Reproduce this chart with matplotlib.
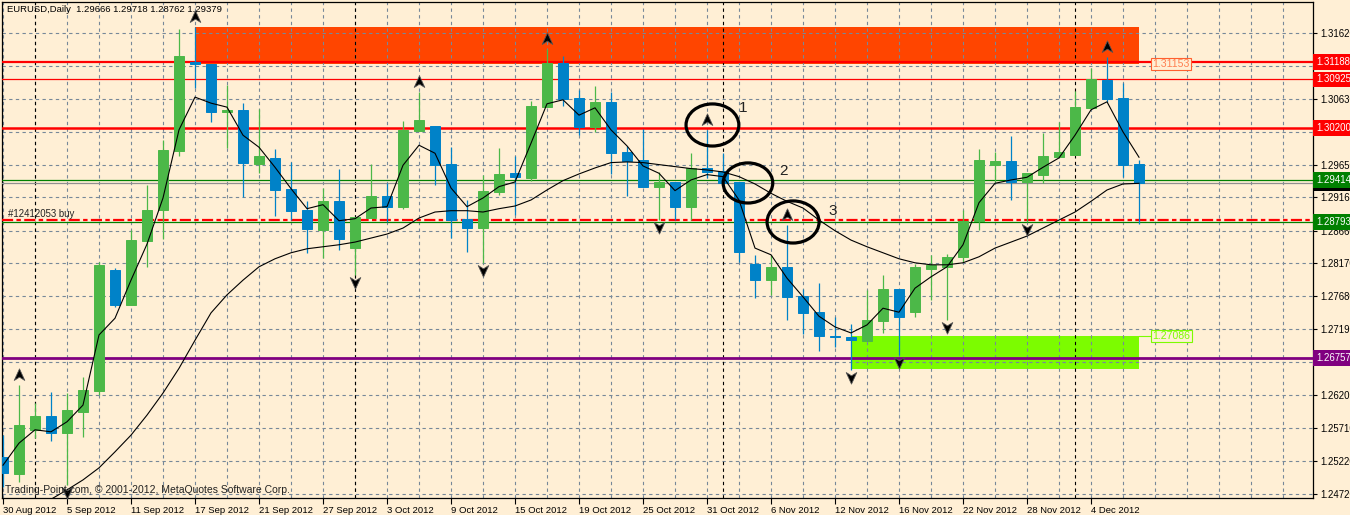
import numpy as np
import matplotlib
matplotlib.use("Agg")
import matplotlib.pyplot as plt
import matplotlib.transforms as mtransforms
from matplotlib.patches import Rectangle, Ellipse
from matplotlib.path import Path

# ---------------- data ----------------
opens = [1.2527, 1.2502, 1.2568, 1.2589, 1.2563, 1.2595, 1.2626, 1.2807, 1.2755, 1.2851,
         1.2897, 1.2985, 1.3119, 1.3116, 1.3044, 1.3047, 1.2966, 1.2975, 1.2929, 1.2897,
         1.2867, 1.2911, 1.2840, 1.2885, 1.2918, 1.2902, 1.3015, 1.3023, 1.2966, 1.2884,
         1.2870, 1.2924, 1.2952, 1.2945, 1.3051, 1.3117, 1.3065, 1.3021, 1.3059, 1.2984,
         1.2972, 1.2932, 1.2939, 1.2902, 1.2960, 1.2955, 1.2939, 1.2816, 1.2792, 1.2812,
         1.2768, 1.2744, 1.2708, 1.2707, 1.2701, 1.2731, 1.2779, 1.2744, 1.2809, 1.2812,
         1.2826, 1.2880, 1.2964, 1.2970, 1.2939, 1.2949, 1.2976, 1.2979, 1.3050, 1.3092,
         1.3065, 1.29666]
highs = [1.2560, 1.2635, 1.2608, 1.2625, 1.2623, 1.2647, 1.2819, 1.2810, 1.2867, 1.2934,
         1.3002, 1.3168, 1.3171, 1.3116, 1.3084, 1.3057, 1.3048, 1.2988, 1.2969, 1.2911,
         1.2930, 1.2958, 1.2887, 1.2966, 1.2937, 1.3030, 1.3074, 1.3023, 1.2991, 1.2912,
         1.2949, 1.2990, 1.2978, 1.3060, 1.3138, 1.3128, 1.3077, 1.3083, 1.3074, 1.2993,
         1.3018, 1.2954, 1.2939, 1.2982, 1.3017, 1.2982, 1.2939, 1.2830, 1.2830, 1.2875,
         1.2779, 1.2788, 1.2737, 1.2726, 1.2777, 1.2800, 1.2779, 1.2816, 1.2829, 1.2831,
         1.2897, 1.2988, 1.2984, 1.3008, 1.2952, 1.3012, 1.3029, 1.3075, 1.3110, 1.3126,
         1.3087, 1.29718]
lows = [1.2482, 1.2490, 1.2556, 1.2551, 1.2485, 1.2557, 1.2620, 1.2752, 1.2755, 1.2812,
        1.2854, 1.2978, 1.3080, 1.3029, 1.2990, 1.2917, 1.2952, 1.2888, 1.2882, 1.2833,
        1.2825, 1.2837, 1.2800, 1.2885, 1.2879, 1.2899, 1.3015, 1.2934, 1.2855, 1.2834,
        1.2818, 1.2920, 1.2890, 1.2940, 1.3051, 1.3053, 1.3009, 1.3014, 1.2951, 1.2918,
        1.2932, 1.2882, 1.2882, 1.2882, 1.2945, 1.2937, 1.2819, 1.2765, 1.2770, 1.2732,
        1.2711, 1.2686, 1.2692, 1.2658, 1.2701, 1.2713, 1.2680, 1.2737, 1.2762, 1.2732,
        1.2819, 1.2867, 1.2939, 1.2912, 1.2879, 1.2937, 1.2976, 1.2979, 1.3050, 1.3059,
        1.2946, 1.28762]
closes = [1.2503, 1.2575, 1.2589, 1.2563, 1.2598, 1.2628, 1.2815, 1.2755, 1.2852, 1.2897,
          1.2987, 1.3127, 1.3116, 1.3044, 1.3047, 1.2967, 1.2978, 1.2927, 1.2896, 1.2869,
          1.2911, 1.2854, 1.2887, 1.2918, 1.2902, 1.3017, 1.3032, 1.2964, 1.2882, 1.2870,
          1.2926, 1.2951, 1.2946, 1.3053, 1.3117, 1.3063, 1.3021, 1.3059, 1.2982, 1.2970,
          1.2932, 1.2939, 1.2902, 1.2960, 1.2954, 1.2937, 1.2834, 1.2792, 1.2812, 1.2767,
          1.2743, 1.2708, 1.2707, 1.2702, 1.2732, 1.2779, 1.2737, 1.2811, 1.2815, 1.2827,
          1.2880, 1.2972, 1.2970, 1.2939, 1.2952, 1.2978, 1.2984, 1.3051, 1.3093, 1.3063,
          1.2964, 1.29379]
ma_fast = [1.2515, 1.2548, 1.2568, 1.2565, 1.2580, 1.2605, 1.2710, 1.2735, 1.2792, 1.2846,
           1.2915, 1.3017, 1.3066, 1.3057, 1.3051, 1.3009, 1.2991, 1.2961, 1.2929, 1.2899,
           1.2905, 1.2881, 1.2884, 1.2900, 1.2902, 1.2964, 1.2994, 1.2982, 1.2930, 1.2902,
           1.2915, 1.2932, 1.2939, 1.2997, 1.3056, 1.3062, 1.3039, 1.3050, 1.3017, 1.2993,
           1.2963, 1.2952, 1.2926, 1.2942, 1.2950, 1.2947, 1.2912, 1.2840, 1.2830, 1.2795,
           1.2767, 1.2738, 1.2722, 1.2713, 1.2725, 1.2750, 1.2744, 1.2780, 1.2797, 1.2812,
           1.2845, 1.2908, 1.2937, 1.2942, 1.2946, 1.2961, 1.2975, 1.3009, 1.3047, 1.3059,
           1.3014, 1.2976]
ma_slow = [np.nan, np.nan, 1.2448, 1.2464, 1.2478, 1.2493, 1.2511, 1.2535, 1.2560, 1.2590,
           1.2623, 1.2660, 1.2702, 1.2743, 1.2770, 1.2792, 1.2812, 1.2824, 1.2833, 1.2839,
           1.2842, 1.2845, 1.2849, 1.2855, 1.2861, 1.2870, 1.2885, 1.2894, 1.2896, 1.2896,
           1.2894, 1.2899, 1.2903, 1.2912, 1.2927, 1.2941, 1.2951, 1.2960, 1.2968, 1.2969,
           1.2968, 1.2965, 1.2962, 1.2959, 1.2957, 1.2954, 1.2947, 1.2936, 1.2922, 1.2910,
           1.2900, 1.2882, 1.2866, 1.2852, 1.2842, 1.2833, 1.2824, 1.2818, 1.2815, 1.2815,
           1.2818, 1.2827, 1.2840, 1.2849, 1.2858, 1.2870, 1.2882, 1.2894, 1.2910, 1.2927,
           1.2936, 1.2937]

date_tick_bars = [0, 4, 8, 12, 16, 20, 24, 28, 32, 36, 40, 44, 48, 52, 56, 60, 64, 68]
date_tick_labels = ["30 Aug 2012", "5 Sep 2012", "11 Sep 2012", "17 Sep 2012", "21 Sep 2012",
                    "27 Sep 2012", "3 Oct 2012", "9 Oct 2012", "15 Oct 2012", "19 Oct 2012",
                    "25 Oct 2012", "31 Oct 2012", "6 Nov 2012", "12 Nov 2012", "16 Nov 2012",
                    "22 Nov 2012", "28 Nov 2012", "4 Dec 2012"]
month_separators = [2, 22, 45, 67]
price_ticks = [1.2472, 1.2522, 1.2571, 1.2620, 1.2669, 1.2719, 1.2768, 1.2817,
               1.2866, 1.2916, 1.2965, 1.3014, 1.3063, 1.3113, 1.3162]

up_fractals = [1, 12, 26, 34, 44, 49, 69]
down_fractals = [4, 22, 30, 41, 53, 56, 59, 64]

# horizontal levels
res_levels = [1.31188, 1.30925, 1.30200]
res_widths = [1.6, 0.9, 1.8]
tp_level = 1.29414
bid_level = 1.29379
order_level = 1.28793
order_sl_level = 1.28815
support_level = 1.26757

# zones (bar_start, bar_end, low, high)
zone_res = (12, 71, 1.31153, 1.31710)
zone_sup = (53, 71, 1.26590, 1.27086)

# annotation circles
circle_labels = ["1", "2", "3"]
circle_x = [44.34, 46.56, 49.38]
circle_y = [1.30243, 1.29375, 1.28791]
circle_w = [3.3, 3.1, 3.25]
circle_h = [0.0063, 0.0060, 0.0063]
circle_lab_x = [46.25, 48.75, 51.85]
circle_lab_y = [1.30497, 1.29554, 1.28955]

# ---------------- style ----------------
BG = "#FFEFD5"
GREEN = "#4CB848"
BLUE = "#0082C8"
GRID = "#778899"
FONT = ["Liberation Sans", "DejaVu Sans"]
plt.rcParams["font.family"] = FONT

W, H = 1350, 515
fig = plt.figure(figsize=(W / 100, H / 100), dpi=100, facecolor=BG)
ax = fig.add_axes([2 / W, 17 / H, 1311 / W, 496 / H], facecolor=BG)
ax.set_xlim(-0.0625, 81.875)
ax.set_ylim(1.246589, 1.320841)

# grid
for b in range(0, 82, 2):
    ax.axvline(b, color=GRID, lw=0.8, ls=(0, (3, 3)), zorder=1.5)
for p in price_ticks:
    ax.axhline(p, color=GRID, lw=0.8, ls=(0, (3, 3)), zorder=1.5)
for b in month_separators:
    ax.axvline(b, color="black", lw=0.8, ls=(0, (3, 3)), zorder=1.6)

# zones
ax.add_patch(Rectangle((zone_res[0], zone_res[2]), zone_res[1] - zone_res[0],
                       zone_res[3] - zone_res[2], fc="#FF4500", ec="none", zorder=1))
ax.add_patch(Rectangle((zone_sup[0], zone_sup[2]), zone_sup[1] - zone_sup[0],
                       zone_sup[3] - zone_sup[2], fc="#7CFC00", ec="none", zorder=1))

# levels
for lv, lw in zip(res_levels, res_widths):
    ax.axhline(lv, color="#FF0000", lw=lw, zorder=3)
ax.axhline(tp_level, color="#008000", lw=0.9, zorder=3)
ax.axhline(bid_level, color="#909090", lw=0.9, zorder=3)
ax.axhline(order_sl_level, color="#FF0000", lw=1.6, ls=(0, (5, 1.5, 2, 1.5)), zorder=3)
ax.axhline(order_level, color="#008000", lw=0.9, zorder=3)
ax.axhline(support_level, color="#800080", lw=2.0, zorder=3)

# candles
x = np.arange(len(opens))
o = np.array(opens); c = np.array(closes); hi = np.array(highs); lo = np.array(lows)
cols = np.where(c >= o, GREEN, BLUE)
ax.vlines(x, lo, hi, colors=cols, lw=0.9, zorder=4)
ax.bar(x, np.abs(c - o), bottom=np.minimum(o, c), width=0.62, color=cols,
       edgecolor=cols, linewidth=0.7, zorder=5)

# moving averages
ax.plot(x, ma_slow, color="black", lw=0.8, zorder=6)
ax.plot(x, ma_fast, color="black", lw=0.8, zorder=6)

# fractal arrows
up_path = Path([(0, 1), (0.8, -0.75), (0, -0.25), (-0.8, -0.75), (0, 1)],
               [Path.MOVETO, Path.LINETO, Path.LINETO, Path.LINETO, Path.CLOSEPOLY])
dn_path = Path([(0, -1), (0.8, 0.75), (0, 0.25), (-0.8, 0.75), (0, -1)],
               [Path.MOVETO, Path.LINETO, Path.LINETO, Path.LINETO, Path.CLOSEPOLY])
tr_up = ax.transData + mtransforms.ScaledTranslation(0, 0.10, fig.dpi_scale_trans)
tr_dn = ax.transData + mtransforms.ScaledTranslation(0, -0.07, fig.dpi_scale_trans)
ax.plot(up_fractals, hi[up_fractals], ls="none", marker=up_path, ms=9.5, color="black",
        mec="#555555", mew=0.6, transform=tr_up, zorder=7, clip_on=False)
ax.plot(down_fractals, lo[down_fractals], ls="none", marker=dn_path, ms=9.5, color="black",
        mec="#555555", mew=0.6, transform=tr_dn, zorder=7, clip_on=False)

# circles
for lab, cx, cy, cw, ch, lx, ly in zip(circle_labels, circle_x, circle_y, circle_w, circle_h,
                                       circle_lab_x, circle_lab_y):
    ax.add_patch(Ellipse((cx, cy), cw, ch, fc="none", ec="black", lw=2.3, zorder=8))
    ax.text(lx, ly, lab, fontsize=11, color="#222222", ha="center", va="center", zorder=8,
            family=FONT)

# zone price labels
lab_x = 71.85
ax.text(lab_x, zone_res[2], f"{zone_res[2]:.5f}", fontsize=7.6, color="#FF7F50", va="center",
        ha="left", zorder=9, bbox=dict(boxstyle="square,pad=0.12", fc=BG, ec="#FF6030", lw=0.8))
ax.plot([zone_sup[1], lab_x], [zone_sup[3], zone_sup[3]], color="#7CFC00", lw=0.8, zorder=9)
ax.text(lab_x, zone_sup[3], f"{zone_sup[3]:.5f}", fontsize=7.6, color="#7CFC00", va="center",
        ha="left", zorder=9, bbox=dict(boxstyle="square,pad=0.12", fc=BG, ec="#7CFC00", lw=0.8))

# order label
tr_ord = mtransforms.blended_transform_factory(ax.transAxes, ax.transData) + \
    mtransforms.ScaledTranslation(0, 0.015, fig.dpi_scale_trans)
ax.text(6 / 1311, order_sl_level, "#12412053 buy", fontsize=6.9, color="#222222",
        transform=tr_ord, va="bottom", ha="left", zorder=9)

# axes / ticks
ax.yaxis.tick_right()
ax.set_yticks(price_ticks)
ax.set_yticklabels([f"{p:.5f}" for p in price_ticks])
ax.tick_params(axis="y", length=3, width=0.8, pad=2, labelsize=6.9, colors="black")
ax.set_xticks(date_tick_bars)
ax.set_xticklabels(date_tick_labels)
for lbl in ax.get_xticklabels():
    lbl.set_horizontalalignment("left")
ax.tick_params(axis="x", length=4, width=0.8, pad=1.5, labelsize=6.8, colors="black")
for s in ax.spines.values():
    s.set_color("black")
    s.set_linewidth(0.9)

# right-side level boxes
tr_right = mtransforms.blended_transform_factory(ax.transAxes, ax.transData)
right_labels = [(bid_level, "#000000"), (tp_level, "#008000"), (order_level, "#008000"),
                (support_level, "#800080")] + [(lv, "#FF0000") for lv in res_levels]
for i, (lv, colr) in enumerate(right_labels):
    ax.text(1 + 3 / 1311, lv, f"{lv:.5f}", transform=tr_right, fontsize=6.9, color="white",
            va="center", ha="left", clip_on=False, zorder=20 + i,
            bbox=dict(boxstyle="square,pad=0.3", fc=colr, ec="none"))

# header / footer
fig.text(7 / W, 1 - 10 / H, "EURUSD,Daily  1.29666 1.29718 1.28762 1.29379", fontsize=6.8,
         color="black", va="center", ha="left")
fig.text(5 / W, 1 - 490 / H, "Trading-Point.com, \u00a9 2001-2012, MetaQuotes Software Corp.",
         fontsize=7.5, color="#222222", va="center", ha="left")

fig.savefig("out.png", dpi=100, facecolor=BG)
